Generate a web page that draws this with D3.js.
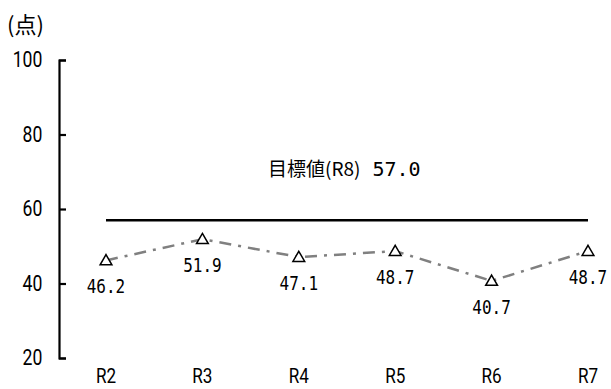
<!DOCTYPE html>
<html>
<head>
<meta charset="utf-8">
<script src="https://cdn.jsdelivr.net/npm/d3@7"></script>
<style>
  body { margin: 0; background: #fff; }
  svg { display: block; }
</style>
</head>
<body>
<div id="chart"></div>
<script>
// data
const years = ["R2", "R3", "R4", "R5", "R6", "R7"];
const scores = [46.2, 51.9, 47.1, 48.7, 40.7, 48.7];
const target = 57.0;
const targetLabel = "目標値(R8)";
const yTicks = [20, 40, 60, 80, 100];

const W = 611, H = 389;

const svg = d3.select("#chart")
  .append("svg")
  .attr("width", W)
  .attr("height", H);

const x = d3.scalePoint()
  .domain(years)
  .range([106, 588]);

const y = d3.scaleLinear()
  .domain([20, 100])
  .range([358, 60]);

// y axis, ticks pointing inward
const yAxis = svg.append("g")
  .attr("transform", "translate(59,0)")
  .call(d3.axisLeft(y).tickValues(yTicks).tickSizeInner(-7).tickSizeOuter(-7).tickPadding(17));
yAxis.select(".domain").attr("stroke", "#000").attr("stroke-width", 2.2);
yAxis.selectAll(".tick line").attr("stroke", "#000").attr("stroke-width", 2.2);
yAxis.selectAll(".tick text")
  .attr("x", -19)
  .attr("transform", "scale(0.88,1.12)")
  .attr("dy", "0.3em")
  .style("font-family", "Roboto, sans-serif")
  .style("font-size", "20px")
  .attr("fill", "#000");

// unit label
svg.append("text")
  .attr("x", 7)
  .attr("y", 33)
  .style("font-family", "'Noto Sans CJK JP', sans-serif")
  .style("font-size", "22px")
  .text("(点)");

// category labels
svg.append("g")
  .selectAll("text")
  .data(years)
  .join("text")
  .attr("transform", d => `translate(${x(d)},383) scale(0.9,1.1)`)
  .attr("text-anchor", "middle")
  .style("font-family", "Roboto, sans-serif")
  .style("font-size", "19px")
  .text(d => d);

// target line
svg.append("line")
  .attr("x1", x(years[0]))
  .attr("x2", x(years[years.length - 1]))
  .attr("y1", y(target))
  .attr("y2", y(target))
  .attr("stroke", "#000")
  .attr("stroke-width", 2.6);

const tl = svg.append("text")
  .attr("x", 268)
  .attr("y", 176)
  .attr("fill", "#000");
tl.append("tspan")
  .style("font-family", "'Noto Sans CJK JP', sans-serif")
  .style("font-size", "19px")
  .text(targetLabel);
tl.append("tspan")
  .attr("dx", 12)
  .style("font-family", "'DejaVu Sans Mono', monospace")
  .style("font-size", "20px")
  .text(target.toFixed(1));

// score line
const line = d3.line()
  .x((d, i) => x(years[i]))
  .y(d => y(d));

svg.append("path")
  .datum(scores)
  .attr("d", line)
  .attr("fill", "none")
  .attr("stroke", "#808080")
  .attr("stroke-width", 2.5)
  .attr("stroke-dasharray", "12,7,3,7");

// triangle markers
const tri = d3.symbol().type(d3.symbolTriangle).size(60);
svg.append("g")
  .selectAll("path")
  .data(scores)
  .join("path")
  .attr("d", tri)
  .attr("transform", (d, i) => `translate(${x(years[i])},${y(d) + 1})`)
  .attr("fill", "#fff")
  .attr("stroke", "#000")
  .attr("stroke-width", 1.5);

// value labels
svg.append("g")
  .selectAll("text")
  .data(scores)
  .join("text")
  .attr("transform", (d, i) => `translate(${x(years[i])},${y(d) + 33}) scale(1,1.2)`)
  .attr("text-anchor", "middle")
  .style("font-family", "'DejaVu Sans Mono', monospace")
  .style("font-size", "16px")
  .text(d => d.toFixed(1));
</script>
</body>
</html>
